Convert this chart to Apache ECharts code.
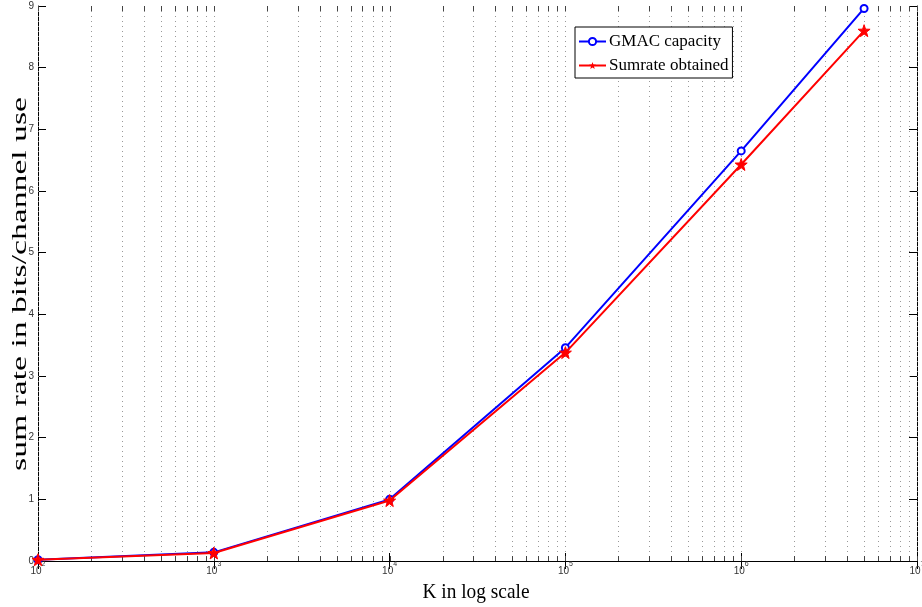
<!DOCTYPE html>
<html>
<head>
<meta charset="utf-8">
<script src="https://cdn.jsdelivr.net/npm/echarts@6/dist/echarts.min.js"></script>
<style>
html,body{margin:0;padding:0;background:#fff;}
#chart{width:922px;height:607px;}
</style>
</head>
<body>
<div id="chart"></div>
<script>
// ---- data ----
var K = [100, 1000, 10000, 100000, 1000000, 5000000];
var gmacCapacity = [0.02, 0.14, 1.0, 3.46, 6.65, 8.96];
var sumrateObtained = [0.02, 0.13, 0.98, 3.38, 6.43, 8.60];
var seriesNames = ['GMAC capacity', 'Sumrate obtained'];
var xTitle = 'K in log scale';
var yTitle = 'sum rate in bits/channel use';
var yTicks = [0, 1, 2, 3, 4, 5, 6, 7, 8, 9];
// vertical dotted grid / minor tick positions
var gridValues = [];
[100, 1000, 10000, 100000, 1000000].forEach(function (d) {
  for (var m = 1; m <= 9; m++) gridValues.push(d * m);
});
gridValues.push(10000000);

var chart = echarts.init(document.getElementById('chart'));
var sans = 'Liberation Sans, Arial, sans-serif';
var serif = 'Liberation Serif, Times New Roman, serif';

function pairs(xs, ys) { return xs.map(function (x, i) { return [x, ys[i]]; }); }

var option = {
  animation: false,
  backgroundColor: '#fff',
  grid: { left: 38, right: 5, top: 6, bottom: 46, containLabel: false, outerBoundsMode: 'none' },
  legend: {
    orient: 'vertical',
    left: 575, top: 27,
    backgroundColor: '#fff',
    borderColor: '#000', borderWidth: 1,
    padding: [6, 4, 4, 3],
    itemWidth: 27, itemHeight: 9, itemGap: 7,
    textStyle: { fontFamily: serif, fontSize: 17, color: '#000', padding: [0, 0, 0, -2] },
    data: seriesNames
  },
  graphic: [{
    type: 'text', x: 20, y: 284, rotation: Math.PI / 2, scaleX: 1.53, scaleY: 1,
    silent: true,
    style: { text: yTitle, font: '22px ' + serif, fill: '#000', align: 'center', verticalAlign: 'middle' }
  }, {
    type: 'text', x: 476, y: 592, scaleX: 0.88, scaleY: 1,
    silent: true,
    style: { text: xTitle, font: '22px ' + serif, fill: '#000', align: 'center', verticalAlign: 'middle' }
  }],
  xAxis: [{
    type: 'log', logBase: 10, min: 100, max: 10000000,
    axisLine: { lineStyle: { color: '#000', width: 1 } },
    axisTick: { inside: true, length: 8, lineStyle: { color: '#000' } },
    splitLine: { show: false },
    axisLabel: {
      margin: 0,
      formatter: function (v) { return '{b|10}{s|' + Math.round(Math.log10(v)) + '}'; },
      rich: {
        b: { fontFamily: sans, fontSize: 10, color: '#333', verticalAlign: 'bottom', lineHeight: 15 },
        s: { fontFamily: sans, fontSize: 7, color: '#333', verticalAlign: 'top', lineHeight: 7 }
      }
    }
  }, {
    type: 'log', logBase: 10, min: 100, max: 10000000, position: 'top',
    axisLine: { lineStyle: { color: '#000', width: 1 } },
    axisTick: { inside: true, length: 8, lineStyle: { color: '#000' } },
    axisLabel: { show: false },
    splitLine: { show: false }
  }],
  yAxis: [{
    type: 'value', min: 0, max: 9, interval: 1,
    axisLine: { show: true, lineStyle: { color: '#000', width: 1 } },
    axisTick: { show: true, inside: true, length: 8, lineStyle: { color: '#000' } },
    splitLine: { show: false },
    axisLabel: {
      margin: 4, fontFamily: sans, fontSize: 10, color: '#333',
      formatter: function (v) { return yTicks.indexOf(v) >= 0 ? String(v) : ''; }
    }
  }, {
    type: 'value', min: 0, max: 9, interval: 1, position: 'right',
    axisLine: { show: true, lineStyle: { color: '#000', width: 1 } },
    axisTick: { show: true, inside: true, length: 8, lineStyle: { color: '#000' } },
    axisLabel: { show: false },
    splitLine: { show: false }
  }],
  series: [{
    type: 'custom',
    name: 'grid',
    silent: true,
    z: 1,
    data: gridValues.map(function (v) { return [v, 0]; }),
    renderItem: function (params, api) {
      var cs = params.coordSys;
      var p = api.coord([api.value(0), 0]);
      var x = Math.round(p[0]) + 0.5;
      var top = cs.y, bottom = cs.y + cs.height;
      return {
        type: 'group',
        children: [{
          type: 'line',
          shape: { x1: x, y1: top, x2: x, y2: bottom },
          style: { stroke: '#999', lineWidth: 1, lineDash: [1, 4] }
        }, {
          type: 'line',
          shape: { x1: x, y1: bottom, x2: x, y2: bottom - 5 },
          style: { stroke: '#444', lineWidth: 1 }
        }, {
          type: 'line',
          shape: { x1: x, y1: top, x2: x, y2: top + 5 },
          style: { stroke: '#444', lineWidth: 1 }
        }]
      };
    }
  }, {
    name: seriesNames[0],
    type: 'line',
    z: 3,
    data: pairs(K, gmacCapacity),
    color: '#0000ff',
    lineStyle: { color: '#0000ff', width: 2 },
    symbol: 'emptyCircle', symbolSize: 7,
    itemStyle: { color: '#0000ff', borderColor: '#0000ff', borderWidth: 1.5 }
  }, {
    name: seriesNames[1],
    type: 'line',
    z: 4,
    data: pairs(K, sumrateObtained),
    color: '#ff0000',
    lineStyle: { color: '#ff0000', width: 2 },
    symbol: 'path://M0,-10 L2.35,-3.24 L9.51,-3.09 L3.8,1.24 L5.88,8.09 L0,4 L-5.88,8.09 L-3.8,1.24 L-9.51,-3.09 L-2.35,-3.24 Z',
    symbolSize: 12,
    itemStyle: { color: '#ff0000', borderColor: '#ff0000' }
  }]
};
chart.setOption(option);
</script>
</body>
</html>
